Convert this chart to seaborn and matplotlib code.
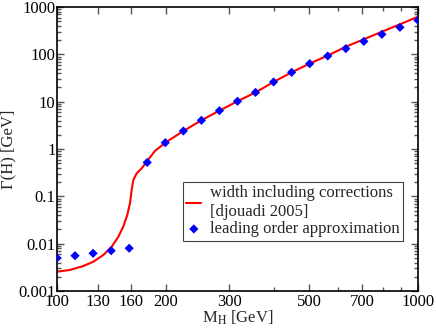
import numpy as np
import pandas as pd
import seaborn as sns
import matplotlib
matplotlib.use("Agg")
import matplotlib.pyplot as plt
from matplotlib.ticker import FixedLocator, FuncFormatter, LogLocator, NullFormatter

# width including corrections (curve)
mass_corr = [100, 108.6, 118.3, 126.1, 134.4, 141.8, 147.9, 152.6, 156.6, 159.3,
             161.0, 162.7, 166.3, 171.7, 177.2, 186.8, 199.5, 223.9, 251.2, 281.8,
             316.2, 354.8, 398.1, 446.7, 501.2, 562.3, 631.0, 707.9, 794.3, 891.3, 1000]
width_corr = [0.00256, 0.00278, 0.00337, 0.00416, 0.00577, 0.00863, 0.0140, 0.0229, 0.0404, 0.0713,
              0.136, 0.221, 0.307, 0.391, 0.54, 0.91, 1.36, 2.40, 4.04, 6.45,
              10.2, 15.7, 26.1, 41.7, 64, 94, 145, 208, 301, 431, 624]

# leading order approximation (points)
mass_lo = [100, 112.2, 125.9, 141.3, 158.5, 177.8, 199.5, 223.9, 251.2, 281.8, 316.2,
           354.8, 398.1, 446.7, 501.2, 562.3, 631.0, 707.9, 794.3, 891.3, 1000]
width_lo = [0.00498, 0.00557, 0.00625, 0.0071, 0.0080, 0.52, 1.36, 2.40, 4.04, 6.45, 10.2,
            15.7, 26.1, 41.7, 63.5, 92.3, 132, 188, 265, 372, 524]

x_major = [100, 130, 160, 200, 300, 500, 700, 1000]
x_minor = [400, 600, 800, 900]

sns.set_style("ticks")
plt.rcParams['font.family'] = ['Liberation Serif', 'DejaVu Serif']
plt.rcParams['mathtext.fontset'] = 'stix'
plt.rcParams['font.size'] = 12

df_corr = pd.DataFrame({"M": mass_corr, "G": width_corr})
df_lo = pd.DataFrame({"M": mass_lo, "G": width_lo})

fig = plt.figure(figsize=(4.36, 3.29), dpi=100)
ax = fig.add_axes([0.1307, 0.1155, 0.828, 0.8632])

sns.lineplot(x="M", y="G", data=df_corr, ax=ax, color="#ff0000", linewidth=1.5,
             label="width including corrections\n[djouadi 2005]", zorder=2)
sns.scatterplot(x="M", y="G", data=df_lo, ax=ax, color="#0000ff", marker="D", s=22,
                edgecolor="none", label="leading order approximation", zorder=3)

ax.set_xscale("log")
ax.set_yscale("log")
ax.set_xlim(100, 1000)
ax.set_ylim(0.001, 1000)

ax.xaxis.set_major_locator(FixedLocator(x_major))
ax.xaxis.set_minor_locator(FixedLocator(x_minor))
ax.xaxis.set_major_formatter(FuncFormatter(lambda v, p: "%g" % v))
ax.xaxis.set_minor_formatter(NullFormatter())
ax.yaxis.set_major_locator(LogLocator(base=10, numticks=10))
ax.yaxis.set_minor_locator(LogLocator(base=10, subs=np.arange(2, 10), numticks=20))
ax.yaxis.set_major_formatter(FuncFormatter(lambda v, p: "%g" % v))
ax.yaxis.set_minor_formatter(NullFormatter())

ax.tick_params(which="both", direction="in", top=True, right=True, width=1, colors="#555555",
               labelcolor="black", labelsize=12)
ax.tick_params(axis="x", pad=2)
ax.tick_params(axis="y", pad=1)
ax.tick_params(which="major", length=5)
ax.tick_params(which="minor", length=3)
for s in ax.spines.values():
    s.set_linewidth(1.2)
    s.set_color("black")

ax.set_xlabel(r"M$_\mathrm{H}$ [GeV]", fontsize=12, labelpad=-1)
ax.set_ylabel("Γ(H) [GeV]", fontsize=12, labelpad=1)

leg = ax.legend(loc="upper left", bbox_to_anchor=(0.349, 0.384), fontsize=12,
                handlelength=0.9, handletextpad=0.5, borderpad=0.2, labelspacing=0.1,
                fancybox=False, framealpha=1, edgecolor="#444444", borderaxespad=0)
leg.get_frame().set_linewidth(0.8)

plt.savefig("out.png", dpi=100)
